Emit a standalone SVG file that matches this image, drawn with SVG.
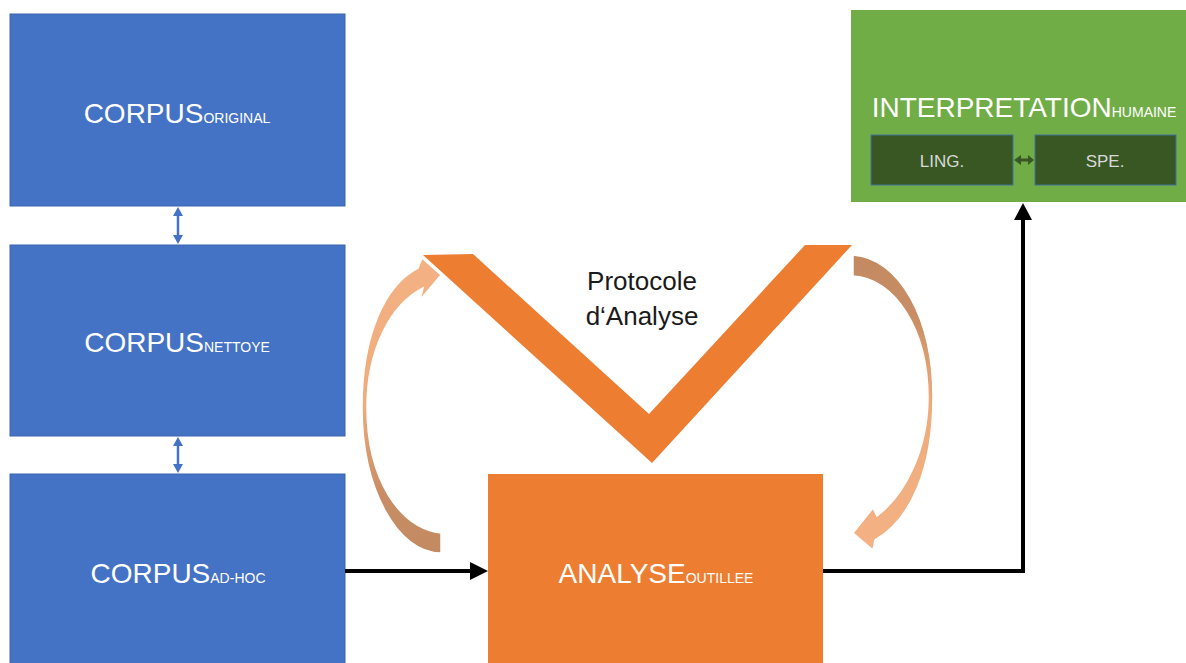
<svg xmlns="http://www.w3.org/2000/svg" width="1186" height="663" viewBox="0 0 1186 663">
  <defs>
    <style>
      .blue { fill: #4472c4; stroke: #3a64ad; stroke-width: 1; }
      .orange { fill: #ed7d31; }
      .green { fill: #70ad47; }
      .dark { fill: #385723; stroke: #41719c; stroke-width: 1; }
      .main { font-family: "Liberation Sans", Arial, sans-serif; font-size: 28px; fill: #ffffff; }
      .sub { font-size: 14px; }
      .small { font-family: "Liberation Sans", Arial, sans-serif; font-size: 17px; fill: #d9d9d9; }
      .label { font-family: "Liberation Sans", Arial, sans-serif; font-size: 26px; fill: #1a1a1a; }
      .conn { fill: none; stroke: #000000; stroke-width: 4; }
      .bl { fill: none; stroke: #4472c4; stroke-width: 2.5; }
    </style>
    <linearGradient id="gUp" x1="0" y1="0" x2="0" y2="1">
      <stop offset="0" stop-color="#f4b183"/>
      <stop offset="0.5" stop-color="#eeab7c"/>
      <stop offset="0.8" stop-color="#c88d64"/>
      <stop offset="1" stop-color="#c38a61"/>
    </linearGradient>
    <linearGradient id="gDown" x1="0" y1="0" x2="0" y2="1">
      <stop offset="0" stop-color="#c38a61"/>
      <stop offset="0.2" stop-color="#c88d64"/>
      <stop offset="0.5" stop-color="#eeab7c"/>
      <stop offset="1" stop-color="#f4b183"/>
    </linearGradient>
  </defs>
  <rect width="1186" height="663" fill="#ffffff"/>

  <g id="corpus-original">
    <rect class="blue" x="10" y="14" width="335" height="192"/>
    <text class="main" x="177" y="123" text-anchor="middle">CORPUS<tspan class="sub">ORIGINAL</tspan></text>
  </g>
  <g id="corpus-nettoye">
    <rect class="blue" x="10" y="245" width="335" height="191"/>
    <text class="main" x="177" y="352" text-anchor="middle">CORPUS<tspan class="sub">NETTOYE</tspan></text>
  </g>
  <g id="corpus-adhoc">
    <rect class="blue" x="10" y="474" width="335" height="195"/>
    <text class="main" x="178" y="583" text-anchor="middle">CORPUS<tspan class="sub">AD-HOC</tspan></text>
  </g>

  <g id="protocole">
    <polygon class="orange" points="423,255 473,254 649,414 805,245 852,245 652,463"/>
    <text class="label" x="642" y="290" text-anchor="middle">Protocole</text>
    <text class="label" x="642" y="325" text-anchor="middle">d‘Analyse</text>
  </g>

  <g id="analyse-outillee">
    <rect class="orange" x="488" y="474" width="335" height="195"/>
    <text class="main" x="656" y="583" text-anchor="middle">ANALYSE<tspan class="sub">OUTILLEE</tspan></text>
  </g>

  <g id="interpretation-humaine">
    <rect class="green" x="851" y="10" width="346" height="192"/>
    <text class="main" x="1024" y="117" text-anchor="middle">INTERPRETATION<tspan class="sub">HUMAINE</tspan></text>
    <g id="ling">
      <rect class="dark" x="871" y="135" width="142" height="50"/>
      <text class="small" x="942" y="167" text-anchor="middle">LING.</text>
    </g>
    <g id="spe">
      <rect class="dark" x="1035" y="135" width="141" height="50"/>
      <text class="small" x="1105" y="167" text-anchor="middle">SPE.</text>
    </g>
    <polygon fill="#385723" points="1014,160 1021,155 1021,158.5 1028,158.5 1028,155 1034,160 1028,165 1028,161.5 1021,161.5 1021,165"/>
  </g>

  <g id="connectors">
    <!-- blue double arrows -->
    <line class="bl" x1="178" y1="214" x2="178" y2="237"/>
    <polygon fill="#4472c4" points="178,207 183,216 173,216"/>
    <polygon fill="#4472c4" points="178,244 183,235 173,235"/>
    <line class="bl" x1="178" y1="444" x2="178" y2="466"/>
    <polygon fill="#4472c4" points="178,437 183,446 173,446"/>
    <polygon fill="#4472c4" points="178,473 183,464 173,464"/>

    <!-- corpus ad-hoc to analyse -->
    <line class="conn" x1="345" y1="571" x2="472" y2="571"/>
    <polygon fill="#000000" points="488,571 470,562 470,580"/>

    <!-- analyse to interpretation -->
    <polyline class="conn" points="823,571 1023,571 1023,217"/>
    <polygon fill="#000000" points="1023,203 1032,220 1014,220"/>

    <!-- curved arrows -->
    <path fill="url(#gUp)" stroke="#ffffff" stroke-width="1.5" d="M 441,553 C 397,553 362,488 362,407 C 362,335 385,285 418,268 L 422,258 L 441,275 L 420,300 L 423,288 C 390,305 367,350 367,407 C 367,480 400,528 441,533 Z"/>
    <path fill="url(#gDown)" stroke="#ffffff" stroke-width="1.5" d="M 853,255 C 900,258 933,320 933,397 C 933,470 910,520 875,540 L 873,550 L 853,533 L 873,508 L 877,516 C 905,495 928,450 928,397 C 928,330 895,278 853,276 Z"/>
  </g>
</svg>
